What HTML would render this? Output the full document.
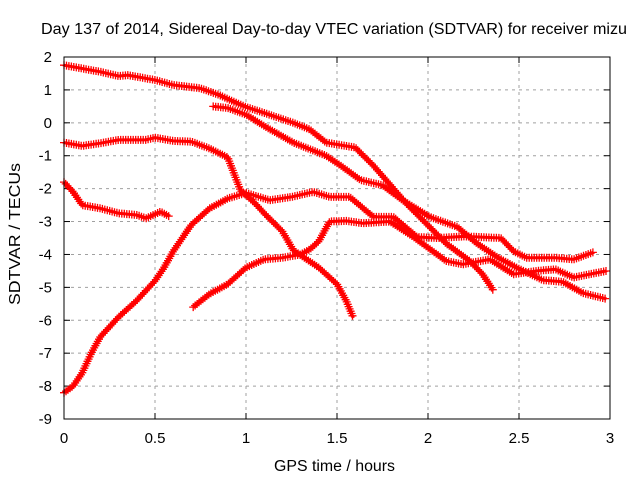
<!DOCTYPE html>
<html><head><meta charset="utf-8"><style>
body{margin:0;background:#fff;}
svg{display:block;font-family:"Liberation Sans",sans-serif;}
</style></head><body>
<svg id="chart" width="640" height="480" viewBox="0 0 640 480">
<rect width="640" height="480" fill="#fff"/>
<text x="41" y="34" font-size="15.5" textLength="586" lengthAdjust="spacingAndGlyphs">Day 137 of 2014, Sidereal Day-to-day VTEC variation (SDTVAR) for receiver mizu</text>
<text transform="translate(20,305) rotate(-90)" font-size="15.5" textLength="142" lengthAdjust="spacingAndGlyphs">SDTVAR / TECUs</text>
<text x="274" y="471" font-size="15.5" textLength="121" lengthAdjust="spacingAndGlyphs">GPS time / hours</text>
<g id="grid"></g><g id="ticks"></g><g id="series"></g>
<rect x="64" y="57" width="546" height="362" fill="none" stroke="#000" stroke-width="1"/>
</svg>
<script>
const xTicks=[0,0.5,1,1.5,2,2.5,3];
const xTickLabels=["0","0.5","1","1.5","2","2.5","3"];
const yTicks=[2,1,0,-1,-2,-3,-4,-5,-6,-7,-8,-9];
const yTickLabels=["2","1","0","-1","-2","-3","-4","-5","-6","-7","-8","-9"];
const s1x=[0,0.1,0.2,0.3,0.35,0.5,0.6,0.75,0.85,0.95,1.0,1.1,1.26,1.35,1.44,1.6,1.7,1.77,1.88,1.99,2.1,2.23,2.3,2.36];
const s1y=[1.75,1.65,1.55,1.42,1.45,1.3,1.15,1.05,0.85,0.6,0.48,0.3,0.0,-0.2,-0.6,-0.75,-1.3,-1.74,-2.45,-3.06,-3.67,-4.2,-4.6,-5.1];
const s2x=[0.82,0.9,1.0,1.11,1.26,1.44,1.52,1.63,1.75,1.86,2.01,2.16,2.27,2.38,2.49,2.63,2.74,2.85,2.98];
const s2y=[0.5,0.45,0.25,-0.13,-0.6,-1.0,-1.3,-1.74,-1.9,-2.35,-2.86,-3.16,-3.67,-4.08,-4.41,-4.78,-4.83,-5.17,-5.35];
const s3x=[0,0.1,0.2,0.3,0.45,0.5,0.6,0.7,0.8,0.9,0.97,1.05,1.1,1.2,1.26,1.4,1.5,1.55,1.59];
const s3y=[-0.6,-0.7,-0.62,-0.52,-0.52,-0.45,-0.55,-0.57,-0.78,-1.05,-2.05,-2.45,-2.75,-3.3,-3.87,-4.4,-4.9,-5.4,-5.93];
const s4x=[0,0.05,0.1,0.2,0.3,0.4,0.45,0.53,0.58];
const s4y=[-1.8,-2.1,-2.5,-2.6,-2.75,-2.8,-2.9,-2.7,-2.85];
const s5x=[0,0.05,0.1,0.15,0.2,0.3,0.4,0.5,0.55,0.6,0.7,0.8,0.9,1.0,1.13,1.25,1.37,1.46,1.57,1.7,1.81,1.94,2.05,2.2,2.4,2.47,2.54,2.7,2.8,2.91];
const s5y=[-8.2,-8.0,-7.6,-7.0,-6.5,-5.9,-5.4,-4.8,-4.4,-3.9,-3.1,-2.6,-2.3,-2.13,-2.35,-2.25,-2.1,-2.25,-2.25,-2.86,-2.86,-3.47,-3.5,-3.45,-3.5,-3.9,-4.1,-4.1,-4.15,-3.93];
const s6x=[0.71,0.8,0.9,1.0,1.1,1.2,1.3,1.35,1.4,1.46,1.55,1.64,1.79,1.92,2.1,2.19,2.34,2.47,2.6,2.7,2.8,2.98];
const s6y=[-5.6,-5.2,-4.9,-4.4,-4.15,-4.1,-4.0,-3.85,-3.6,-3.0,-2.98,-3.05,-3.0,-3.47,-4.2,-4.3,-4.15,-4.6,-4.5,-4.45,-4.7,-4.5];
const seriesX=[s1x,s2x,s3x,s4x,s5x,s6x];
const seriesY=[s1y,s2y,s3y,s4y,s5y,s6y];
const X=h=>64+h*182, Y=v=>57+(2-v)*(362/11);
const NS="http://www.w3.org/2000/svg";
const grid=document.getElementById('grid'),ticks=document.getElementById('ticks'),ser=document.getElementById('series');
function mk(t,a,p){const e=document.createElementNS(NS,t);for(const k in a)e.setAttribute(k,a[k]);p.appendChild(e);return e;}
xTicks.forEach((t,i)=>{const x=X(t);
 if(i>0&&i<xTicks.length-1){const g=mk('line',{x1:x,y1:57,x2:x,y2:419,stroke:'#a0a0a0','stroke-dasharray':'3,4'},grid);
 
 }
 mk('line',{x1:x,y1:419,x2:x,y2:413,stroke:'#000'},ticks);mk('line',{x1:x,y1:57,x2:x,y2:63,stroke:'#000'},ticks);
 const l=mk('text',{x:x,y:443,'font-size':'15','text-anchor':'middle'},ticks);l.textContent=xTickLabels[i];
 
 });
yTicks.forEach((t,i)=>{const y=Y(t);
 if(i>0&&i<yTicks.length-1){const g=mk('line',{x1:64,y1:y,x2:610,y2:y,stroke:'#a0a0a0','stroke-dasharray':'3,4'},grid);
 
 }
 mk('line',{x1:64,y1:y,x2:70,y2:y,stroke:'#000'},ticks);mk('line',{x1:610,y1:y,x2:604,y2:y,stroke:'#000'},ticks);
 const l=mk('text',{x:52,y:y+5,'font-size':'15','text-anchor':'end'},ticks);l.textContent=yTickLabels[i];
 
 });
seriesX.forEach((xs,si)=>{const ys=seriesY[si];
 const g=mk('g',{},ser);
 
 
 const d=xs.map((x,i)=>(i?'L':'M')+X(x).toFixed(1)+','+Y(ys[i]).toFixed(1)).join('');
 const p=mk('path',{d:d,fill:'none',stroke:'#f00','stroke-width':'3','stroke-linejoin':'round'},g);
 const L=p.getTotalLength();let dd='';
 for(let s=0;s<=L;s+=2.5){const q=p.getPointAtLength(s);dd+=`M${(q.x-4).toFixed(1)},${q.y.toFixed(1)}h8M${q.x.toFixed(1)},${(q.y-4).toFixed(1)}v8`;}
 mk('path',{d:dd,stroke:'#f00','stroke-width':'1.3',fill:'none'},g);
});
</script>
</body></html>
